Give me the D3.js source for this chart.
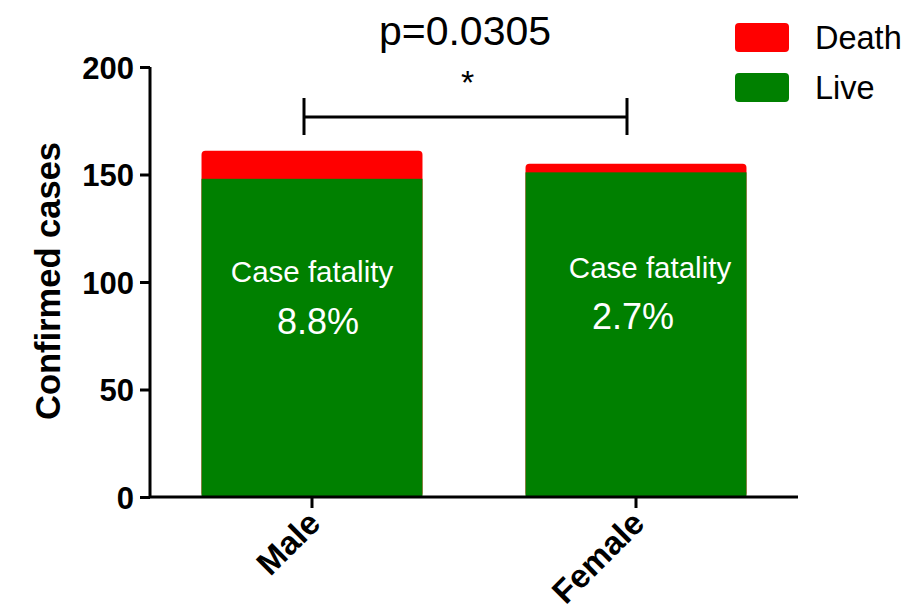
<!DOCTYPE html>
<html>
<head>
<meta charset="utf-8">
<script src="https://cdn.jsdelivr.net/npm/d3@7"></script>
<style>
  html, body { margin: 0; padding: 0; background: #fff; }
  svg { display: block; font-family: Arial, "Liberation Sans", sans-serif; }
</style>
</head>
<body>
<svg id="chart" width="912" height="616"></svg>
<script>
const categories = ["Male", "Female"];
const liveValues = [148, 151];
const deathValues = [13, 4];
const fatalityLabels = ["8.8%", "2.7%"];
const yTicks = [0, 50, 100, 150, 200];
const seriesNames = ["Death", "Live"];
const seriesColors = ["#FF0000", "#008000"];
const pValueText = "p=0.0305";

const svg = d3.select("#chart");
const x = d3.scaleBand().domain(categories).range([150, 798]).paddingInner(0.318).paddingOuter(0.159);
const y = d3.scaleLinear().domain([0, 200]).range([497, 67]);

const data = categories.map((c, i) => ({ cat: c, live: liveValues[i], death: deathValues[i], label: fatalityLabels[i] }));

// bars: death (top, rounded) then live
const bars = svg.append("g");
bars.selectAll("rect.death").data(data).enter().append("rect")
  .attr("class", "death")
  .attr("x", d => x(d.cat))
  .attr("width", x.bandwidth())
  .attr("y", d => y(d.live + d.death))
  .attr("height", d => y(0) - y(d.live + d.death))
  .attr("rx", 4)
  .attr("fill", seriesColors[0]);
bars.selectAll("rect.live").data(data).enter().append("rect")
  .attr("class", "live")
  .attr("x", d => x(d.cat))
  .attr("width", x.bandwidth())
  .attr("y", d => y(d.live))
  .attr("height", d => y(0) - y(d.live))
  .attr("fill", seriesColors[1]);

// labels inside bars
const labelDx = [[0, 6], [14, -3]];
const labelDy = [[282, 334], [278, 329]];
data.forEach((d, i) => {
  const cx = x(d.cat) + x.bandwidth() / 2;
  svg.append("text")
    .attr("x", cx + labelDx[i][0]).attr("y", labelDy[i][0])
    .attr("text-anchor", "middle").attr("fill", "#fff").attr("font-size", 29.5)
    .text("Case fatality");
  svg.append("text")
    .attr("x", cx + labelDx[i][1]).attr("y", labelDy[i][1])
    .attr("text-anchor", "middle").attr("fill", "#fff").attr("font-size", 36)
    .text(d.label);
});

// y axis
const yAxis = svg.append("g").attr("transform", "translate(150,0)")
  .call(d3.axisLeft(y).tickValues(yTicks).tickSize(10).tickPadding(6).tickFormat(d3.format("d")));
yAxis.select(".domain").attr("stroke", "#000").attr("stroke-width", 3).attr("d", `M0,${y(200)}V${y(0)}`);
yAxis.selectAll(".tick line").attr("stroke", "#000").attr("stroke-width", 3);
yAxis.selectAll(".tick text").attr("font-size", 31).attr("font-weight", "bold").attr("fill", "#000")
  .attr("font-family", "Arial, 'Liberation Sans', sans-serif").attr("dy", "0.36em");

// x axis
const xAxis = svg.append("g").attr("transform", `translate(0,${y(0)})`)
  .call(d3.axisBottom(x).tickSize(11).tickPadding(6));
xAxis.select(".domain").attr("stroke", "#000").attr("stroke-width", 3).attr("d", "M150,0H798");
xAxis.selectAll(".tick line").attr("stroke", "#000").attr("stroke-width", 3);
xAxis.selectAll(".tick text")
  .attr("font-size", 33).attr("font-weight", "bold").attr("fill", "#000")
  .attr("font-family", "Arial, 'Liberation Sans', sans-serif")
  .attr("text-anchor", "end")
  .attr("transform", "translate(2,20) rotate(-45)")
  .attr("dy", "0.35em").attr("y", 0).attr("x", 0);

// y title
svg.append("text")
  .attr("transform", `translate(60,${(y(0) + y(200)) / 2 - 1}) rotate(-90)`)
  .attr("text-anchor", "middle").attr("font-size", 34.5).attr("font-weight", "bold").attr("fill", "#000")
  .text("Confirmed cases");

// significance bracket
const bx1 = x("Male") + x.bandwidth() / 2 - 8;
const bx2 = x("Female") + x.bandwidth() / 2 - 9;
const by = 117;
const br = svg.append("g").attr("stroke", "#000").attr("stroke-width", 3);
br.append("line").attr("x1", bx1).attr("x2", bx2).attr("y1", by).attr("y2", by);
br.append("line").attr("x1", bx1).attr("x2", bx1).attr("y1", by - 19).attr("y2", by + 18);
br.append("line").attr("x1", bx2).attr("x2", bx2).attr("y1", by - 19).attr("y2", by + 18);
svg.append("text").attr("x", (bx1 + bx2) / 2 + 2).attr("y", 94)
  .attr("text-anchor", "middle").attr("font-size", 34).attr("fill", "#000").text("*");
svg.append("text").attr("x", 465).attr("y", 45)
  .attr("text-anchor", "middle").attr("font-size", 41).attr("fill", "#000").text(pValueText);

// legend
const legend = svg.append("g");
seriesNames.forEach((s, i) => {
  legend.append("rect").attr("x", 735).attr("y", 23 + i * 50).attr("width", 54).attr("height", 29)
    .attr("rx", 4).attr("fill", seriesColors[i]);
  legend.append("text").attr("x", 815).attr("y", 49 + i * 50).attr("font-size", 32.5).attr("fill", "#000").text(s);
});
</script>
</body>
</html>
